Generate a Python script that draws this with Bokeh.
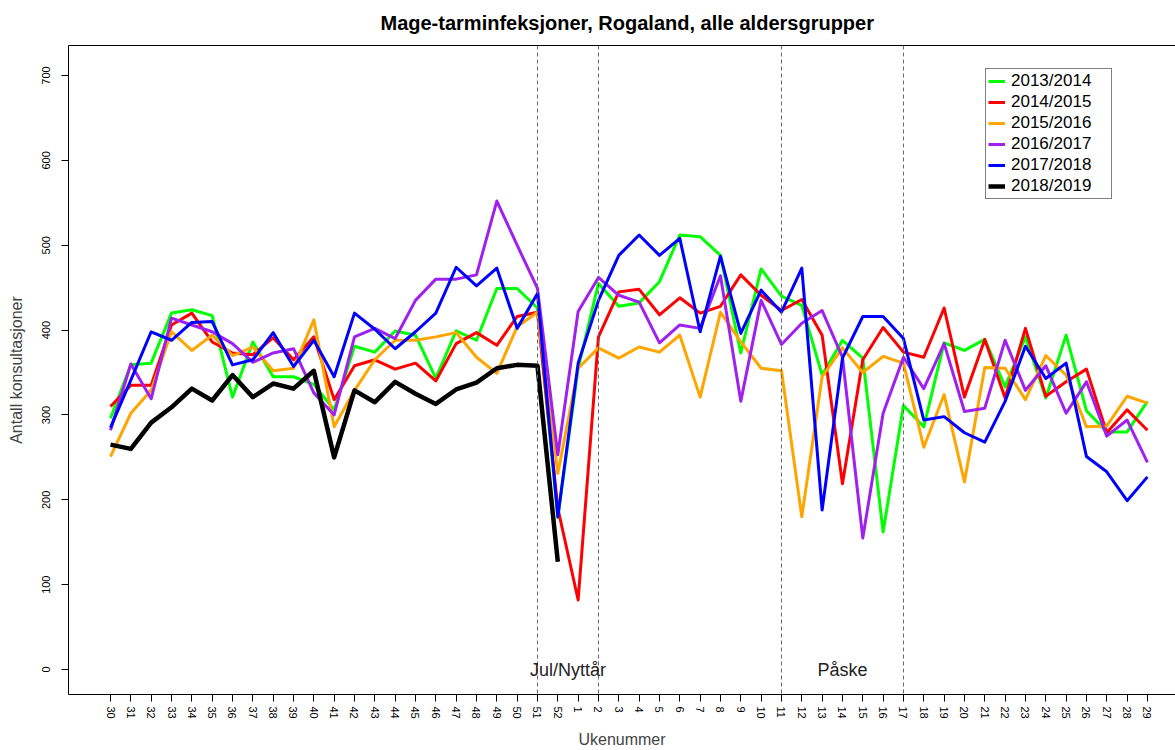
from bokeh.plotting import figure
from bokeh.models import FixedTicker, Span, Label, Legend, LegendItem, LinearAxis, Range1d
from bokeh.embed import file_html
from bokeh.resources import INLINE

weeks = list(range(30, 53)) + list(range(1, 30))
pos = list(range(1, len(weeks) + 1))

s2013 = [296, 359, 361, 420, 424, 417, 321, 386, 345, 345, 336, 306, 381, 374, 399, 394, 343, 399, 388, 449, 449, 426, 179,
         355, 455, 428, 432, 457, 512, 510, 488, 373, 472, 440, 429, 347, 388, 367, 162, 311, 286, 385, 376, 389, 333, 392,
         320, 394, 305, 280, 280, 316]
s2014 = [310, 335, 335, 406, 420, 386, 373, 371, 391, 365, 392, 318, 358, 365, 354, 361, 340, 384, 397, 382, 416, 421, 190,
         82, 392, 445, 448, 418, 438, 420, 428, 465, 441, 423, 436, 394, 219, 365, 403, 374, 368, 426, 321, 389, 320, 402,
         322, 339, 354, 279, 306, 282]
s2015 = [251, 302, 329, 398, 376, 394, 370, 380, 352, 355, 412, 286, 329, 365, 388, 388, 392, 397, 368, 349, 404, 421, 231,
         355, 379, 367, 380, 374, 394, 321, 421, 386, 355, 352, 180, 345, 379, 350, 369, 361, 262, 324, 221, 356, 355, 318,
         370, 347, 286, 287, 322, 314]
s2016 = [282, 360, 319, 414, 406, 398, 384, 362, 373, 378, 326, 300, 392, 402, 390, 435, 460, 460, 465, 552, 500, 449, 253,
         422, 462, 441, 433, 385, 406, 402, 464, 316, 435, 383, 408, 423, 368, 155, 302, 368, 331, 384, 304, 308, 388, 329,
         358, 302, 339, 275, 294, 244]
s2017 = [285, 341, 398, 388, 409, 410, 359, 365, 397, 357, 388, 345, 420, 401, 378, 398, 420, 474, 452, 473, 402, 443, 180,
         361, 435, 488, 512, 488, 508, 398, 487, 396, 447, 421, 473, 188, 367, 416, 416, 390, 294, 298, 279, 268, 316, 381,
         343, 361, 251, 233, 199, 227]
s2018 = [265, 260, 291, 309, 331, 317, 347, 321, 337, 331, 352, 250, 329, 315, 339, 325, 313, 330, 338, 355, 359, 358, 127]

season_names = ["2013/2014", "2014/2015", "2015/2016", "2016/2017", "2017/2018", "2018/2019"]
season_values = [s2013, s2014, s2015, s2016, s2017, s2018]
season_colors = ["#00FF00", "#FF0000", "#FFA500", "#A020F0", "#0000FF", "#000000"]
season_widths = [3, 3, 3, 3, 3, 4.5]

y_ticks = [0, 100, 200, 300, 400, 500, 600, 700]
holiday_weeks = [51, 2, 11, 17]
holiday_labels = ["Jul/Nyttår", "Påske"]

FONT = "Liberation Sans"

p = figure(width=1175, height=750,
           x_range=Range1d(-1.066, 53.38), y_range=Range1d(-29.4, 735.3),
           output_backend="svg", toolbar_location=None,
           min_border_left=68, min_border_right=0, min_border_top=45, min_border_bottom=55,
           title="Mage-tarminfeksjoner, Rogaland, alle aldersgrupper")

p.title.align = "left"
p.title.offset = 312
p.title.text_font = FONT
p.title.text_font_size = "20px"
p.title.text_font_style = "bold"
p.title.text_color = "#000000"
p.title.standoff = 20
p.title.vertical_align = "top"

p.xgrid.visible = False
p.ygrid.visible = False
p.outline_line_color = None
p.background_fill_color = "white"
p.border_fill_color = "white"

xax = p.below[0]
yax = p.left[0]

# y axis
yax.ticker = FixedTicker(ticks=y_ticks)
yax.major_label_orientation = "vertical"
yax.major_label_text_font = FONT
yax.major_label_text_font_size = "11px"
yax.major_label_text_color = "#000000"
yax.major_tick_out = 7
yax.major_tick_in = 0
yax.minor_tick_out = 0
yax.minor_tick_in = 0
yax.major_label_standoff = 11
yax.axis_label = "Antall konsultasjoner"
yax.axis_label_text_font = FONT
yax.axis_label_text_font_size = "16px"
yax.axis_label_text_font_style = "normal"
yax.axis_label_standoff = 15
yax.axis_line_color = "black"

# x axis
xax.ticker = FixedTicker(ticks=pos)
xax.major_label_overrides = {i: str(w) for i, w in zip(pos, weeks)}
xax.major_label_orientation = "vertical"
xax.major_label_text_font = FONT
xax.major_label_text_font_size = "11px"
xax.major_label_text_color = "#000000"
xax.major_tick_out = 7
xax.major_tick_in = 0
xax.minor_tick_out = 0
xax.minor_tick_in = 0
xax.major_label_standoff = 5
xax.axis_label = "Ukenummer"
xax.axis_label_text_font = FONT
xax.axis_label_text_font_size = "16px"
xax.axis_label_text_font_style = "normal"
xax.axis_label_standoff = 9
xax.axis_line_color = "black"

# top border line only
top_ax = LinearAxis(ticker=FixedTicker(ticks=[]), major_tick_out=0, major_tick_in=0,
                    minor_tick_out=0, minor_tick_in=0, major_label_text_font_size="0px",
                    axis_line_color="black", axis_line_width=1, major_label_standoff=0,
                    axis_label=None)
p.add_layout(top_ax, "above")

# holiday dashed lines
for w in holiday_weeks:
    xi = pos[weeks.index(w)]
    p.add_layout(Span(location=xi, dimension="height", line_color="#666666",
                      line_dash="4 3", line_width=1))

jul_x = (pos[weeks.index(51)] + pos[weeks.index(2)]) / 2
pas_x = (pos[weeks.index(11)] + pos[weeks.index(17)]) / 2
for lx, txt in zip([jul_x, pas_x], holiday_labels):
    p.add_layout(Label(x=lx, y=0, text=txt, text_align="center", text_baseline="middle",
                       text_font=FONT, text_font_size="18px", text_color="#222222"))

items = []
for name, vals, col, lw in zip(season_names, season_values, season_colors, season_widths):
    r = p.line(pos[:len(vals)], vals, line_color=col, line_width=lw, line_join="round")
    items.append(LegendItem(label=name, renderers=[r]))

legend = Legend(items=items, location=(917, 495))
legend.label_text_font = FONT
legend.label_text_font_size = "17px"
legend.label_text_color = "#000000"
legend.border_line_color = "black"
legend.border_line_width = 1
legend.background_fill_alpha = 1
legend.padding = 2
legend.spacing = 1
legend.glyph_width = 17
legend.glyph_height = 16
legend.label_height = 16
legend.label_standoff = 6
legend.label_width = 98
legend.margin = 0
p.add_layout(legend, "center")

open("out.html", "w").write(file_html(p, INLINE))
